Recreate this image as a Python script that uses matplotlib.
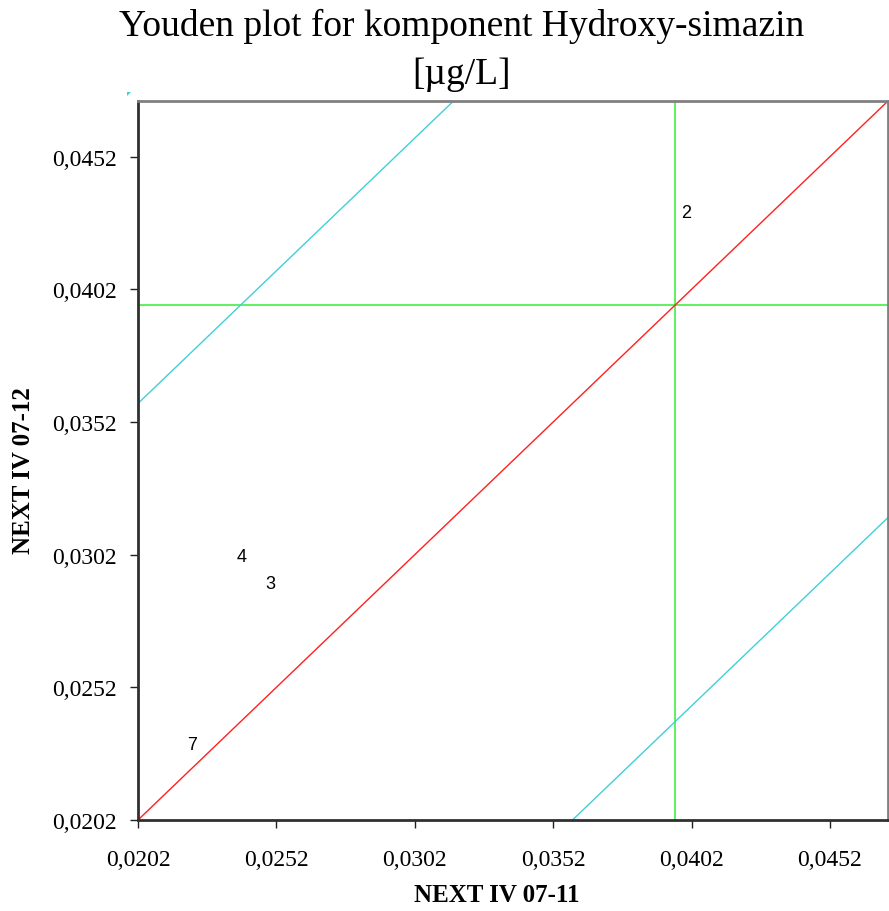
import matplotlib
matplotlib.use("Agg")
import matplotlib.pyplot as plt
from matplotlib.patches import Polygon
import numpy as np

# Data
labels = ["2", "3", "4", "7"]
x_values = [0.04002, 0.02497, 0.02396, 0.02215]
y_values = [0.04308, 0.02913, 0.03015, 0.02303]
median_x = 0.03961
median_y = 0.03961
band_offset = 0.0157
axis_min = 0.0202
axis_max = 0.0473
tick_values = [0.0202, 0.0252, 0.0302, 0.0352, 0.0402, 0.0452]
tick_labels = ["0,0202", "0,0252", "0,0302", "0,0352", "0,0402", "0,0452"]

W, H = 889, 912
fig = plt.figure(figsize=(W/100, H/100), dpi=100)
ax = fig.add_axes([138/W, 1-821/H, 750/W, 719/H])

line = np.array([axis_min - 0.05, axis_max + 0.05])
ax.plot(line, line, color="#FF2020", lw=1.0, zorder=2)
ax.plot(line, line + band_offset, color="#40D0D8", lw=1.0, zorder=2)
ax.plot(line, line - band_offset, color="#40D0D8", lw=1.0, zorder=2)
ax.axvline(median_x, color="#33EE33", lw=1.1, zorder=1)
ax.axhline(median_y, color="#33EE33", lw=1.1, zorder=1)

for lab, x, y in zip(labels, x_values, y_values):
    ax.text(x, y, lab, ha="center", va="center", fontsize=13,
            family="Liberation Sans", color="black", zorder=3)

ax.set_xlim(axis_min, axis_max)
ax.set_ylim(axis_min, axis_max)
ax.set_xticks(tick_values)
ax.set_xticklabels(tick_labels)
ax.set_yticks(tick_values)
ax.set_yticklabels(tick_labels)

serif = "Liberation Serif"
for t in ax.get_xticklabels() + ax.get_yticklabels():
    t.set_family(serif)
    t.set_fontsize(17)
ax.tick_params(axis="x", direction="out", length=6, width=1, pad=15, color="#202020")
ax.tick_params(axis="y", direction="out", length=6, width=1, pad=9, color="#202020")

ax.spines["left"].set_color("#303030")
ax.spines["bottom"].set_color("#303030")
ax.spines["left"].set_linewidth(2)
ax.spines["bottom"].set_linewidth(2)
ax.spines["top"].set_color("#808080")
ax.spines["right"].set_color("#808080")
ax.spines["top"].set_linewidth(2)
ax.spines["right"].set_linewidth(2)

ax.set_xlabel("NEXT IV 07-11", family=serif, fontsize=18, fontweight="bold")
ax.xaxis.label.set_va("center")
ax.xaxis.set_label_coords((497-138)/750, -(896-821)/719)
ax.set_ylabel("NEXT IV 07-12", family=serif, fontsize=18, fontweight="bold")
ax.yaxis.label.set_va("center")
ax.yaxis.set_label_coords(-(138-24)/750, (821-471)/719)

fig.text(462/W, 1-26/H, "Youden plot for komponent Hydroxy-simazin",
         ha="center", va="center", family=serif, fontsize=27)
fig.text(462/W, 1-75/H, "[µg/L]", ha="center", va="center",
         family=serif, fontsize=27)

# small cyan mark at the top-left corner
fig.add_artist(Polygon([[127/W, 1-93/H], [131/W, 1-93/H], [127/W, 1-97/H]],
                       closed=True, transform=fig.transFigure,
                       color="#40D0D8", lw=0))

fig.savefig("out.png", dpi=100)
